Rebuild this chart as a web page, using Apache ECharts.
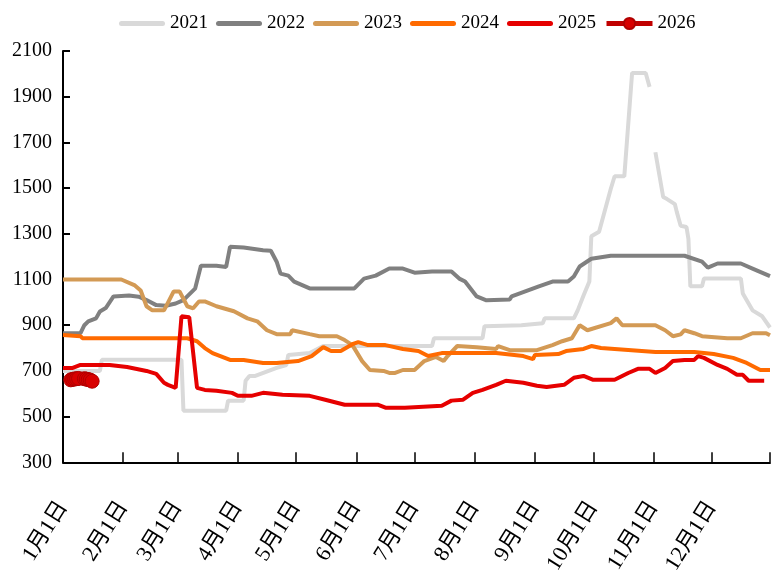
<!DOCTYPE html>
<html style="height: 100%">
<head>
<meta charset="utf-8">
<title>2021-2026</title>
<script src="https://cdn.jsdelivr.net/npm/echarts@6/dist/echarts.min.js"></script>
</head>
<body style="height: 100%; margin: 0; background: #fff;">
<div id="container" style="width: 774px; height: 577px;"></div>
<script type="text/javascript">
// days per month, used to build the daily category axis
var monthDays = [31, 28, 31, 30, 31, 30, 31, 31, 30, 31, 30, 31];
var seriesNames = ['2021', '2022', '2023', '2024', '2025', '2026'];
var seriesColors = ['#D9D9D9', '#808080', '#D39A55', '#FF6A00', '#E60000', '#C00000'];

// [day of year (0 = 1月1日), value]
var data2021 = [[0,700],[19,700],[20,749],[61,749],[62,526],[84,526],[85,570],[93,570],[94,657],[96,678],[99,678],
    [110,713],[115,726],[116,770],[127,778],[134,809],[190,809],[191,843],[216,843],[217,896],[236,900],[247,909],
    [248,930],[263,930],[265,965],[268,1030],[271,1091],[272,1289],[276,1309],[282,1496],[284,1552],[289,1552],
    [293,2004],[300,2004],[302,1943],[303,'-'],[305,1657],[309,1461],[311,1452],[315,1430],[316,1396],[318,1335],
    [321,1330],[322,1278],[323,1070],[329,1070],[330,1104],[349,1104],[350,1039],[355,965],[360,939],[364,890]];
var data2022 = [[0,865],[9,865],[11,900],[13,917],[17,930],[19,960],[22,975],[26,1026],[34,1030],[39,1025],
    [43,1010],[48,988],[53,985],[58,995],[62,1010],[68,1060],[71,1160],[79,1160],[84,1155],[86,1243],[93,1240],
    [103,1228],[107,1226],[110,1178],[112,1126],[116,1117],[119,1091],[127,1061],[150,1061],[155,1104],[161,1117],
    [168,1148],[175,1148],[181,1130],[190,1135],[200,1135],[204,1104],[207,1091],[213,1026],[218,1009],[230,1013],
    [231,1026],[238,1048],[245,1070],[252,1091],[260,1091],[263,1113],[266,1157],[272,1191],[282,1204],[320,1204],
    [329,1178],[332,1152],[337,1170],[349,1170],[355,1148],[364,1115]];
var data2023 = [[0,1100],[30,1100],[37,1074],[40,1052],[43,983],[46,965],[52,965],[57,1048],[60,1048],[64,983],
    [67,974],[70,1004],[73,1004],[79,983],[88,961],[95,930],[100,917],[105,878],[110,861],[117,861],[118,878],
    [127,861],[132,852],[141,852],[145,835],[149,813],[154,743],[158,704],[165,700],[168,691],[171,691],[175,704],
    [181,704],[186,743],[192,761],[196,743],[198,765],[203,809],[213,804],[223,796],[224,809],[230,791],[244,791],
    [252,813],[257,830],[262,843],[266,900],[270,878],[282,909],[285,930],[288,900],[305,900],[310,878],[314,852],
    [315,860],[318,860],[320,878],[325,865],[329,852],[342,843],[349,843],[355,865],[362,865],[364,856]];
var data2024 = [[0,857],[9,852],[10,843],[64,843],[69,830],[73,800],[77,778],[81,765],[86,748],[93,748],
    [103,735],[110,735],[121,743],[128,765],[134,804],[138,787],[143,787],[149,817],[152,826],[157,813],[166,813],
    [175,796],[183,787],[188,765],[195,778],[223,778],[237,765],[242,752],[243,770],[255,774],[259,787],[268,796],
    [272,809],[277,800],[305,783],[325,783],[335,774],[345,757],[352,735],[359,704],[364,704]];
var data2025 = [[0,713],[5,713],[9,726],[24,726],[33,717],[43,700],[48,687],[52,648],[54,639],[58,626],
    [61,939],[65,935],[69,626],[73,617],[79,613],[87,604],[90,591],[97,591],[103,604],[113,596],[127,591],
    [135,574],[145,552],[162,552],[166,539],[176,539],[195,548],[200,570],[206,574],[211,604],[216,617],[223,639],
    [228,657],[237,648],[244,635],[249,630],[258,639],[263,670],[268,678],[273,661],[284,661],[291,691],[296,709],
    [302,709],[305,691],[310,713],[314,743],[320,748],[325,748],[327,765],[330,757],[337,726],[342,709],[347,683],
    [350,683],[353,657],[361,657]];
var data2026 = [[4,661],[5,663],[6,665],[7,666],[8,667],[11,666],[12,664],[13,662],[14,660],[15,655]];
var yTicks = [300, 2100, 200];

var categories = [];
for (var m = 0; m < 12; m++) {
    for (var d = 1; d <= monthDays[m]; d++) {
        categories.push((m + 1) + '月' + d + '日');
    }
}
var lastIndex = categories.length - 1;

// thick pill used as legend icon for the plain lines
var lineIcon = 'path://M2.5,0 L43.5,0 A2.5,2.5 0 0 1 43.5,5 L2.5,5 A2.5,2.5 0 0 1 2.5,0 Z';

var allData = [data2021, data2022, data2023, data2024, data2025, data2026];
var series = [];
var legendData = [];
for (var i = 0; i < allData.length; i++) {
    var isLast = (i === allData.length - 1);
    series.push({
        name: seriesNames[i],
        type: 'line',
        data: allData[i],
        connectNulls: false,
        symbol: isLast ? 'circle' : 'none',
        symbolSize: 14,
        showSymbol: isLast,
        showAllSymbol: true,
        itemStyle: isLast ? {color: '#D80000', borderColor: '#B00000', borderWidth: 1} : {color: seriesColors[i]},
        lineStyle: {color: seriesColors[i], width: 4},
        emphasis: {disabled: true},
        animation: false
    });
    if (isLast) {
        legendData.push({name: seriesNames[i], lineStyle: {width: 5, color: seriesColors[i]}});
    } else {
        legendData.push({name: seriesNames[i], icon: lineIcon});
    }
}

var serif = '"Liberation Serif", "Noto Sans CJK SC", serif';
var myChart = echarts.init(document.getElementById('container'));
var option = {
    backgroundColor: '#fff',
    legend: {
        top: 9,
        left: 114,
        itemWidth: 46,
        itemHeight: 14,
        itemGap: 8,
        textStyle: {fontFamily: serif, fontSize: 19, color: '#000'},
        data: legendData
    },
    grid: {left: 63, right: 4, top: 51, bottom: 112},
    xAxis: {
        type: 'category',
        boundaryGap: false,
        data: categories,
        axisLine: {lineStyle: {color: '#000', width: 2}},
        axisTick: {
            inside: true,
            length: 10,
            lineStyle: {color: '#000', width: 1.5},
            interval: function (index, value) {
                return /月1日$/.test(value) || index === lastIndex;
            }
        },
        axisLabel: {
            rotate: 58,
            margin: 41,
            fontFamily: serif,
            fontSize: 22,
            color: '#000',
            interval: function (index, value) {
                return /月1日$/.test(value);
            }
        },
        splitLine: {show: false}
    },
    yAxis: {
        type: 'value',
        min: yTicks[0],
        max: yTicks[1],
        interval: yTicks[2],
        axisLine: {show: true, lineStyle: {color: '#000', width: 2}},
        axisTick: {show: true, inside: true, length: 7, lineStyle: {color: '#000', width: 2}},
        axisLabel: {
            margin: 11,
            fontFamily: serif,
            fontSize: 20,
            color: '#000',
            formatter: function (v) { return String(v); }
        },
        splitLine: {show: false}
    },
    series: series
};
myChart.setOption(option);
</script>
</body>
</html>
